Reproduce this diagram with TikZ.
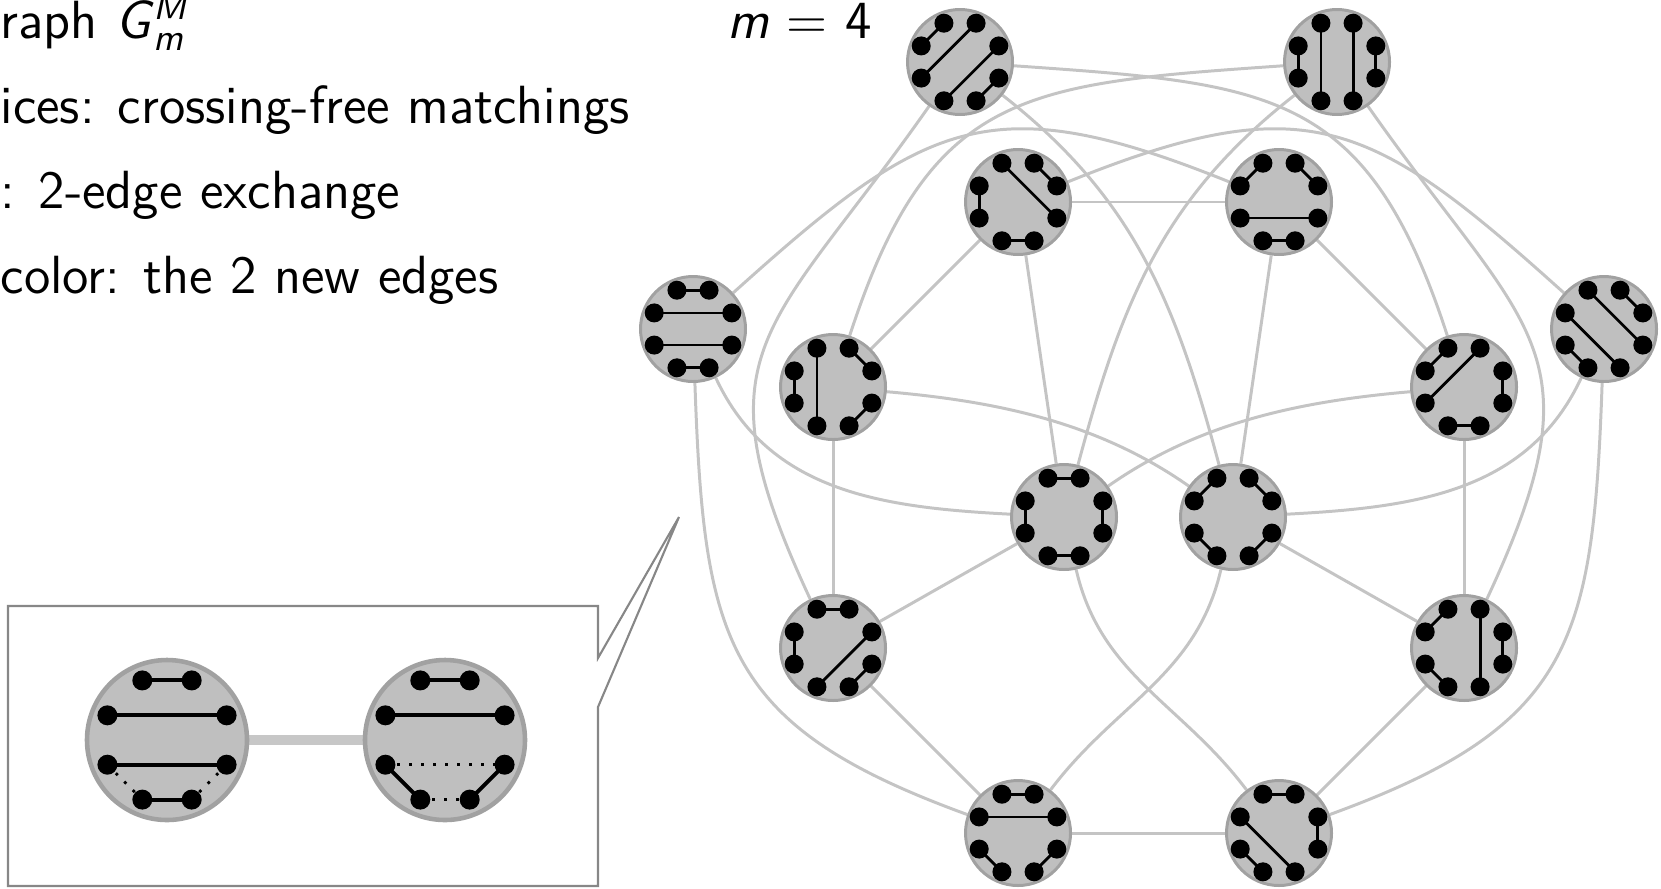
\documentclass[tikz,border=0pt]{standalone}
\usepackage{amsmath}
\usepackage{tikz}
\usetikzlibrary{backgrounds}

% eight points on a ring round node #1, pairs #4 joined
\newcommand{\drawmatching}[4]{%
  \begin{scope}[shift={(#1.center)}]
    \foreach \p/\q in {#4}
      \draw[mline] (22.5+45*\p:#2) -- (22.5+45*\q:#2);
    \foreach \k in {0,...,7}
      \fill (22.5+45*\k:#2) circle (#3);
  \end{scope}}

\begin{document}
\begin{tikzpicture}[mnode/.style={circle,draw=black!37,fill=black!25,line width=0.85pt,minimum size=1.05cm,inner sep=0pt},
    bignode/.style={circle,draw=black!37,fill=black!25,line width=1.3pt,minimum size=1.6cm,inner sep=0pt},
    flip/.style={draw=black!23,line width=0.85pt},
    mline/.style={line width=0.8pt},
    txt/.style={anchor=base west,inner sep=0pt,font=\sffamily\fontsize{15.3}{18}\selectfont}]
    \useasboundingbox (0,0) rectangle (16.61,8.88);
    \clip (0,0) rectangle (16.61,8.88);

    \node[txt] (title) at (0,8.50) {raph \textit{G}$_{\textit{m}}^{\textit{M}}$};
    \node[txt] (mval) at (7.27,8.50) {\textit{m} = 4};
    \node[txt] (verts) at (0,7.65) {ices: crossing-free matchings};
    \node[txt] (edges) at (0,6.80) {: 2-edge exchange};
    \node[txt] (colr) at (0,5.95) {color: the 2 new edges};

    \node[mnode] (a) at (9.60,8.26) {};
    \node[mnode] (b) at (13.37,8.26) {};
    \node[mnode] (c) at (10.18,6.86) {};
    \node[mnode] (d) at (12.79,6.86) {};
    \node[mnode] (e) at (6.93,5.59) {};
    \node[mnode] (g) at (16.04,5.59) {};
    \node[mnode] (f) at (8.33,5.01) {};
    \node[mnode] (h) at (14.64,5.01) {};
    \node[mnode] (i) at (10.64,3.71) {};
    \node[mnode] (j) at (12.33,3.71) {};
    \node[mnode] (k) at (8.33,2.40) {};
    \node[mnode] (l) at (14.64,2.40) {};
    \node[mnode] (m) at (10.18,0.55) {};
    \node[mnode] (n) at (12.79,0.55) {};

    \drawmatching{a}{0.42}{0.095}{0/5,1/4,2/3,6/7}
    \drawmatching{b}{0.42}{0.095}{0/7,1/6,2/5,3/4}
    \drawmatching{c}{0.42}{0.095}{0/1,2/7,3/4,5/6}
    \drawmatching{d}{0.42}{0.095}{0/1,2/3,4/7,5/6}
    \drawmatching{e}{0.42}{0.095}{0/3,1/2,4/7,5/6}
    \drawmatching{g}{0.42}{0.095}{0/1,2/7,3/6,4/5}
    \drawmatching{f}{0.42}{0.095}{0/1,2/5,3/4,6/7}
    \drawmatching{h}{0.42}{0.095}{0/7,1/4,2/3,5/6}
    \drawmatching{i}{0.42}{0.095}{0/7,1/2,3/4,5/6}
    \drawmatching{j}{0.42}{0.095}{0/1,2/3,4/5,6/7}
    \drawmatching{k}{0.42}{0.095}{0/5,1/2,3/4,6/7}
    \drawmatching{l}{0.42}{0.095}{0/7,1/6,2/3,4/5}
    \drawmatching{m}{0.42}{0.095}{0/3,1/2,4/5,6/7}
    \drawmatching{n}{0.42}{0.095}{0/7,1/2,3/6,4/5}

   \begin{scope}[on background layer]
   \begin{scope}[flip]
    \draw (c) -- (d) ;
    \draw (m) -- (n) ;
    \draw (c) -- (f) ;
    \draw (d) -- (h) ;
    \draw (f) -- (k) ;
    \draw (h) -- (l) ;
    \draw (k) -- (m) ;
    \draw (l) -- (n) ;
    \draw (i) -- (c) ;
    \draw (j) -- (d) ;
    \draw (i) -- (k) ;
    \draw (j) -- (l) ;
   \end{scope}

   \begin{scope}[flip]
    \draw (a) to[out=235,in=115,looseness=1.4] (k) ;
    \draw (b) to[out=305,in=65,looseness=1.4] (l) ;
    \draw (e) to[out=272,in=160,looseness=1.3] (m) ;
    \draw (g) to[out=268,in=20,looseness=1.3] (n) ;
    \draw (e) to[out=295,in=177] (i) ;
    \draw (g) to[out=245,in=3] (j) ;
    \draw (f) to[out=-5,in=145,looseness=0.9] (j) ;
    \draw (h) to[out=185,in=35,looseness=0.9] (i) ;
    \draw (i) to[out=75,in=218] (b) ;
    \draw (j) to[out=105,in=322] (a) ;
    \draw (i) to[out=283,in=127] (n) ;
    \draw (j) to[out=257,in=53] (m) ;
    \draw (e) to[out=42,in=158,looseness=1.3] (d) ;
    \draw (g) to[out=138,in=22,looseness=1.3] (c) ;
    \draw (a) to[out=-4,in=108,looseness=1.3] (h) ;
    \draw (b) to[out=184,in=72,looseness=1.3] (f) ;
   \end{scope}
   \end{scope}

    % zoomed flip e -- m
    \coordinate (tip) at (6.79,3.71);
    \draw[black!47,line width=0.6pt] (0.08,0.02) -- (0.08,2.82) -- (5.98,2.82) -- (5.98,2.30)
        -- (tip) -- (5.98,1.81) -- (5.98,0.02) -- cycle;
    \node[bignode] (old) at (1.67,1.48) {};
    \node[bignode] (new) at (4.45,1.48) {};
    \begin{scope}[on background layer]
     \draw[black!22,line width=2.6pt] (old) -- (new) ;
    \end{scope}
    \begin{scope}[mline/.style={line width=1.1pt}]
     \drawmatching{old}{0.645}{0.1}{0/3,1/2,4/7,5/6}
     \drawmatching{new}{0.645}{0.1}{0/3,1/2,4/5,6/7}
    \end{scope}
    \begin{scope}[line width=0.8pt,dash pattern=on 0.8pt off 2.6pt]
     \draw ([shift={(202.5:0.645)}]old.center) -- ([shift={(247.5:0.645)}]old.center) ;
     \draw ([shift={(337.5:0.645)}]old.center) -- ([shift={(292.5:0.645)}]old.center) ;
     \draw ([shift={(202.5:0.645)}]new.center) -- ([shift={(337.5:0.645)}]new.center) ;
     \draw ([shift={(247.5:0.645)}]new.center) -- ([shift={(292.5:0.645)}]new.center) ;
    \end{scope}

\end{tikzpicture}
\end{document}
